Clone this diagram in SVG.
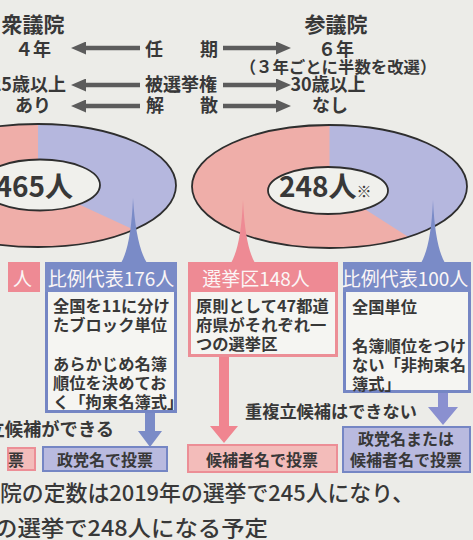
<svg xmlns="http://www.w3.org/2000/svg" width="473" height="540" viewBox="0 0 473 540">
<defs>
<style>
text{font-family:'Noto Sans CJK JP','Noto Sans CJK SC',sans-serif;fill:#383838;font-weight:700}
.t18{font-size:18px}
.t16{font-size:16px}
.body{font-size:16.3px}
.hdr{font-size:19px;fill:#fbf6f6;font-weight:400}
.big{font-size:28px}
.mid{text-anchor:middle}
.end{text-anchor:end}
.gray{stroke:#5c5c5c;stroke-width:4.5;fill:none}
.pinkE{fill:#efaea9}
.blueE{fill:#b5b7de}
.ring{fill:none;stroke:#2e2e2e;stroke-width:1.8}
.inner{fill:#f0f0ec;stroke:#2e2e2e;stroke-width:1.8}
.bS{fill:#7a8bc7}
.pS{fill:#ee8a94}
.bBox{fill:#f5f5f2;stroke:#7586c4;stroke-width:3}
.pBox{fill:#f5f5f2;stroke:#ec8e96;stroke-width:3}
.bHead{fill:#7a8bc7}
.pHead{fill:#ee8a94}
.bFoot{fill:#b9badf;stroke:#7586c4;stroke-width:2}
.pFoot{fill:#f3bcba;stroke:#ec8e96;stroke-width:2}
.bArr{fill:#7a8bc7}
.bArr2{fill:#8a90d0}
.pArr{fill:#f08590}
.foot{font-size:22px;font-weight:500}
</style>
<marker id="ah" markerUnits="userSpaceOnUse" markerWidth="15" markerHeight="13" refX="4" refY="6.5" orient="auto">
<path d="M0,0 L15,6.5 L0,13 Z" fill="#5c5c5c"/>
</marker>
</defs>
<rect width="473" height="540" fill="#ecece8"/>

<g id="header-shugiin">
<text class="mid" x="33" y="32" style="font-size:21px">衆議院</text>
<text class="t18 mid" x="33" y="56">４年</text>
<text class="t18 end" x="66" y="91">25歳以上</text>
<text class="t18 mid" x="33" y="112">あり</text>
</g>
<g id="header-sangiin">
<text class="mid" x="336" y="32" style="font-size:21px">参議院</text>
<text class="t18 mid" x="336" y="56">６年</text>
<text class="mid" x="338" y="73" style="font-size:16.4px">（３年ごとに半数を改選）</text>
<text class="t18 mid" x="328" y="91">30歳以上</text>
<text class="t18 mid" x="330" y="112">なし</text>
</g>
<g id="labels-middle">
<text class="t18" x="145 200" y="56">任期</text>
<text class="t18" x="145" y="91">被選挙権</text>
<text class="t18" x="146 200" y="112">解散</text>
</g>

<g id="donut-shugiin">
<ellipse class="pinkE" cx="38" cy="185.5" rx="138" ry="61.5"/>
<path class="blueE" d="M38,185.5 L38,124 A138,61.5 0 0 1 133.9,229.7 Z"/>
<ellipse class="ring" cx="38" cy="185.5" rx="138" ry="61.5"/>
<ellipse class="inner" cx="40" cy="185" rx="60" ry="25.5"/>
<text class="big end" x="73" y="197">465人</text>
</g>
<g id="donut-sangiin">
<ellipse class="pinkE" cx="329.5" cy="186.5" rx="137.5" ry="61.5"/>
<path class="blueE" d="M329.5,186.5 L329.5,125 A137.5,61.5 0 0 1 408.4,236.9 Z"/>
<ellipse class="ring" cx="329.5" cy="186.5" rx="137.5" ry="61.5"/>
<ellipse class="inner" cx="328" cy="190.5" rx="60" ry="23.5"/>
<text class="big" x="279" y="197">248人<tspan style="font-size:15px">※</tspan></text>
</g>

<g id="connectors">
<line class="gray" x1="140" y1="48" x2="82" y2="48" marker-end="url(#ah)"/>
<line class="gray" x1="223" y1="48" x2="280" y2="48" marker-end="url(#ah)"/>
<line class="gray" x1="140" y1="85" x2="82" y2="85" marker-end="url(#ah)"/>
<line class="gray" x1="223" y1="85" x2="280" y2="85" marker-end="url(#ah)"/>
<line class="gray" x1="140" y1="106" x2="82" y2="106" marker-end="url(#ah)"/>
<line class="gray" x1="223" y1="106" x2="280" y2="106" marker-end="url(#ah)"/>
<path class="bS" d="M133,198 Q131,246 121,263 L147,263 Q136,246 133,198 Z"/>
<path class="pS" d="M243,200 Q241,246 231,263 L255,263 Q245,246 243,200 Z"/>
<path class="bS" d="M433,200 Q431,246 421,263 L445,263 Q435,246 433,200 Z"/>
<polygon class="bArr" points="145,412 155,412 155,431 162,431 150,447 138,431 145,431"/>
<polygon class="pArr" points="219,356 229,356 229,426 238,426 224,443 210,426 219,426"/>
<polygon class="bArr2" points="438,392 448,392 448,407 458,407 443,425 428,407 438,407"/>
</g>

<g id="box-shu-district">
<rect class="pHead" x="8" y="262" width="32" height="30"/>
<text class="hdr" x="13" y="286">人</text>
</g>
<g id="box-shu-pr">
<rect class="bBox" x="46.5" y="263.5" width="129" height="148"/>
<rect class="bHead" x="45" y="262" width="132" height="30"/>
<text class="hdr mid" x="111" y="286">比例代表176人</text>
<text class="body" x="53" y="312">全国を11に分け</text>
<text class="body" x="53" y="331">たブロック単位</text>
<text class="body" x="53" y="370">あらかじめ名簿</text>
<text class="body" x="53" y="389">順位を決めてお</text>
<text class="body" x="53" y="408">く「拘束名簿式」</text>
</g>
<g id="box-san-district">
<rect class="pBox" x="189.5" y="263.5" width="147" height="92"/>
<rect class="pHead" x="188" y="262" width="150" height="30"/>
<text class="hdr mid" x="256" y="286">選挙区148人</text>
<text class="body" x="196" y="312">原則として47都道</text>
<text class="body" x="196" y="331">府県がそれぞれ一</text>
<text class="body" x="196" y="350">つの選挙区</text>
</g>
<g id="box-san-pr">
<rect class="bBox" x="344.5" y="263.5" width="125" height="128"/>
<rect class="bHead" x="343" y="262" width="128" height="30"/>
<text class="hdr mid" x="405" y="286">比例代表100人</text>
<text class="body" x="352" y="313">全国単位</text>
<text class="body" x="352" y="352">名簿順位をつけ</text>
<text class="body" x="352" y="371">ない「非拘束名</text>
<text class="body" x="352" y="390">簿式」</text>
</g>

<g id="note-dual">
<text x="-13.5" y="436" style="font-size:18.3px">立候補ができる</text>
</g>
<g id="note-nodual">
<text x="245" y="418" style="font-size:17.2px">重複立候補はできない</text>
</g>

<g id="vote-shu-district">
<rect class="pFoot" x="8" y="448" width="27" height="22"/>
<text class="t16" x="8" y="466">票</text>
</g>
<g id="vote-shu-pr">
<rect class="bFoot" x="43" y="447" width="124" height="24"/>
<text class="t16 mid" x="105" y="466">政党名で投票</text>
</g>
<g id="vote-san-district">
<rect class="pFoot" x="188" y="445" width="149" height="27"/>
<text class="t16 mid" x="262" y="466">候補者名で投票</text>
</g>
<g id="vote-san-pr">
<rect class="bFoot" x="343" y="427" width="127" height="45"/>
<text class="t16 mid" x="406" y="445">政党名または</text>
<text class="t16 mid" x="406" y="466">候補者名で投票</text>
</g>

<g id="footnote">
<text class="foot" x="0" y="501" textLength="414" lengthAdjust="spacingAndGlyphs">院の定数は2019年の選挙で245人になり、</text>
<text class="foot" x="-6" y="536" textLength="274" lengthAdjust="spacingAndGlyphs">の選挙で248人になる予定</text>
</g>
</svg>
